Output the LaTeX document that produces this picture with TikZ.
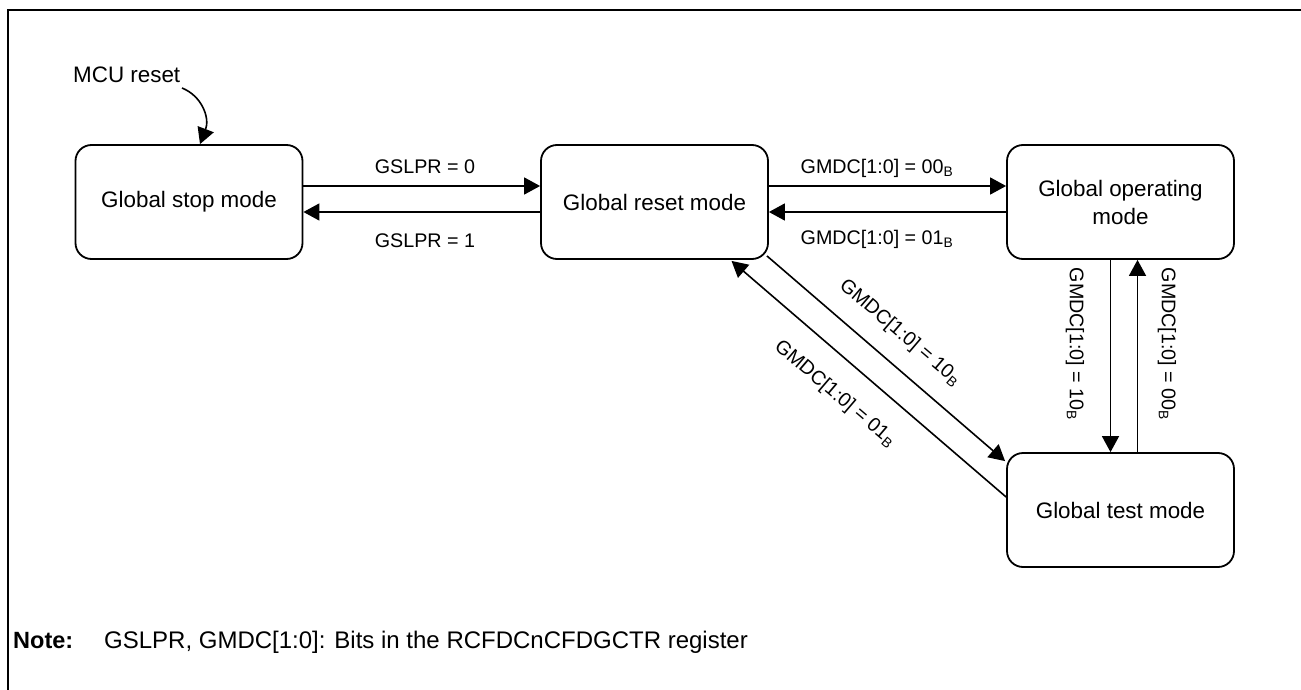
\documentclass[tikz,border=0pt]{standalone}
\usepackage{fontspec}
\setmainfont{Liberation Sans}
\usetikzlibrary{arrows.meta,calc}
\begin{document}
\begin{tikzpicture}[x=1pt,y=-1pt,
  state/.style={draw, line width=1.8pt, rounded corners=16pt, minimum width=227pt, minimum height=114pt, inner sep=0pt, font=\fontsize{22.4}{28}\selectfont, align=center},
  lbl/.style={inner sep=0pt, font=\fontsize{19.7}{23}\selectfont},
  txt/.style={inner sep=0pt, anchor=base west},
  arr/.style={line width=1.6pt, -{Triangle[length=16pt,width=17pt]}},
]
\useasboundingbox (0,0) rectangle (1301,690);
\draw[line width=2.2pt] (8,690) -- (8,10) -- (1301,10);

\node[state] (stop) at (189,202) {Global stop mode};
\node[state] (reset) at (654.5,202) {Global reset mode};
\node[state] (oper) at (1120.5,202) {Global operating\\mode};
\node[state] (test) at (1120.5,510) {Global test mode};

\draw[arr] ([yshift=16pt]stop.east) -- ([yshift=16pt]reset.west);
\draw[arr] ([yshift=-10pt]reset.west) -- ([yshift=-10pt]stop.east);
\draw[arr] ([yshift=16pt]reset.east) -- ([yshift=16pt]oper.west);
\draw[arr] ([yshift=-10pt]oper.west) -- ([yshift=-10pt]reset.east);
\draw[arr] ([xshift=-10pt]oper.south) -- ([xshift=-10pt]test.north);
\draw[arr] ([xshift=17pt]test.north) -- ([xshift=17pt]oper.south);
\draw[arr] ([xshift=-2pt,yshift=4pt]reset.south east) -- ([xshift=-1pt,yshift=-9pt]test.north west);
\draw[arr] ([yshift=13pt]test.west) -- ([xshift=77pt,yshift=-1pt]reset.south);

\node[lbl, anchor=base] (l1) at (425,173) {GSLPR = 0};
\node[lbl, anchor=base] (l2) at (425,247) {GSLPR = 1};
\node[lbl, anchor=base] (l3) at (877,173) {GMDC[1:0] = 00\textsubscript{B}};
\node[lbl, anchor=base] (l4) at (877,244) {GMDC[1:0] = 01\textsubscript{B}};
\node[lbl, rotate=-40.5] (l5) at (900,333) {GMDC[1:0] = 10\textsubscript{B}};
\node[lbl, rotate=-40.5] (l6) at (835,394) {GMDC[1:0] = 01\textsubscript{B}};
\node[lbl, rotate=-90] (l7) at (1075,344) {GMDC[1:0] = 10\textsubscript{B}};
\node[lbl, rotate=-90] (l8) at (1167,344) {GMDC[1:0] = 00\textsubscript{B}};

\node[txt, font=\fontsize{22.4}{27}\selectfont] (mcu) at (73,83) {MCU reset};
\coordinate (mcus) at (182,88);
\draw[arr] (mcus) .. controls (202,96) and (210,118) .. ([xshift=11pt]stop.north);

\node[txt, font=\fontsize{23.5}{28}\selectfont\bfseries] (notek) at (13,648) {Note:};
\node[txt, font=\fontsize{24}{28}\selectfont] (note) at (104,648) {GSLPR, GMDC[1:0]: Bits in the RCFDCnCFDGCTR register};
\end{tikzpicture}
\end{document}
